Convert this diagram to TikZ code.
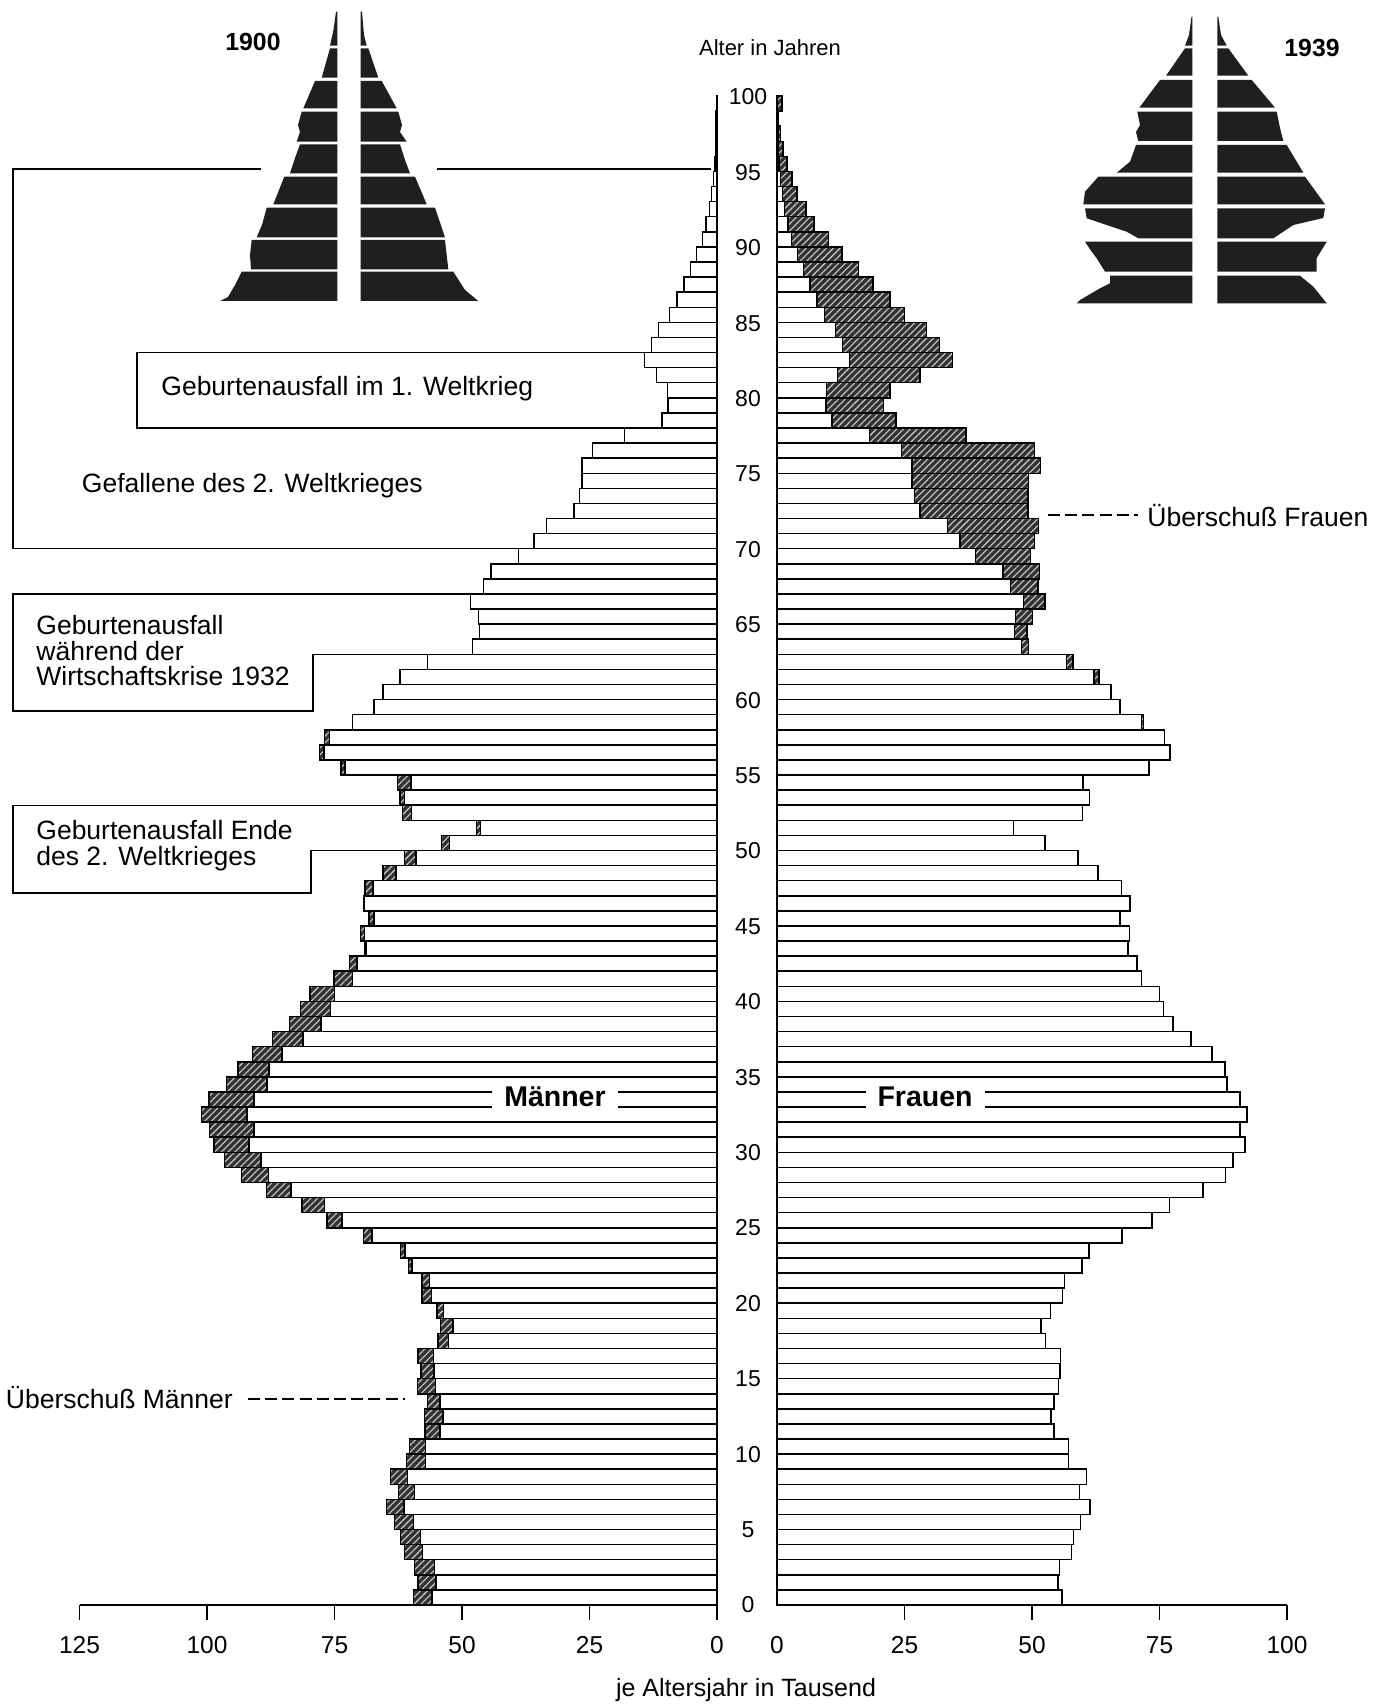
\documentclass[tikz,border=0pt]{standalone}
\usepackage{fontspec}
\setmainfont{Liberation Sans}
\usetikzlibrary{patterns.meta}
\def\popdata{0/59.5/55.9,1/58.6/55.1,2/59.3/55.4,3/61.3/57.7,4/62.1/58.1,5/63.2/59.5,6/64.8/61.4,7/62.5/59.3,8/64.0/60.7,9/60.9/57.2,10/60.3/57.2,11/57.3/54.3,12/57.4/53.7,13/56.8/54.3,14/58.7/55.2,15/58.0/55.5,16/58.6/55.6,17/54.7/52.6,18/54.2/51.8,19/54.9/53.6,20/57.8/56.0,21/57.8/56.4,22/60.5/59.8,23/62.1/61.2,24/69.3/67.6,25/76.5/73.5,26/81.4/77.0,27/88.3/83.5,28/93.2/87.9,29/96.6/89.4,30/98.6/91.8,31/99.5/90.8,32/101.1/92.2,33/99.6/90.8,34/96.2/88.2,35/93.9/87.8,36/91.1/85.3,37/87.2/81.2,38/83.8/77.6,39/81.7/75.8,40/79.8/75.0,41/75.1/71.5,42/72.1/70.6,43/69.0/68.8,44/69.9/69.1,45/68.2/67.3,46/69.2/69.2,47/69.0/67.5,48/65.5/62.9,49/61.3/59.0,50/54.0/52.5,51/47.2/46.4,52/61.7/59.9,53/62.2/61.3,54/62.6/60.0,55/73.7/72.9,56/77.9/77.1,57/77.0/76.0,58/71.5/71.9,59/67.3/67.3,60/65.5/65.5,61/62.2/63.1,62/56.8/58.0,63/47.9/49.3,64/46.6/49.0,65/46.8/50.1,66/48.3/52.5,67/45.8/51.2,68/44.3/51.5,69/38.9/49.7,70/35.9/50.5,71/33.4/51.3,72/28.0/49.2,73/27.0/49.2,74/26.5/49.3,75/26.5/51.7,76/24.4/50.5,77/18.1/37.1,78/10.8/23.3,79/9.6/20.9,80/9.7/22.2,81/11.9/28.0,82/14.2/34.4,83/12.8/31.9,84/11.5/29.3,85/9.3/25.0,86/7.8/22.2,87/6.5/18.8,88/5.2/16.0,89/4.0/12.75,90/2.8/10.1,91/2.2/7.3,92/1.5/5.7,93/1.1/3.9,94/0.7/2.9,95/0.4/1.96,96/0.3/1.2,97/0.2/0.65,98/0.15/0.33,99/0.1/1.0}
\def\xM{717}\def\xF{777}\def\sc{5.1}\def\bh{15.09}\def\yb{1605}
\begin{document}
\begin{tikzpicture}[x=0.5pt,y=-0.5pt,
  barline/.style={draw=black,line width=0.75pt},
  hatchfill/.style={fill=black!80,postaction={pattern={Lines[angle=45,distance=2.4pt,line width=0.55pt]},pattern color=white!80!black}},
  pyr/.style={fill=black!88},
  conn/.style={draw=black,line width=0.7pt},
  dashconn/.style={draw=black,line width=0.7pt,dash pattern=on 6pt off 2.6pt},
  agelbl/.style={font=\fontsize{11.5}{13}\selectfont,inner sep=0pt},
  ticklbl/.style={font=\fontsize{12.25}{14}\selectfont,inner sep=0pt},
  annot/.style={font=\fontsize{13.25}{12.75}\selectfont,align=left,anchor=west,inner sep=0pt},
  yearlbl/.style={font=\bfseries\fontsize{12.4}{14}\selectfont,inner sep=0pt},
  sexlbl/.style={font=\bfseries\fontsize{14.25}{16}\selectfont,fill=white,inner xsep=6pt,inner ysep=1.5pt},
]
\useasboundingbox (0,0) rectangle (1387,1706);
\fill[white] (0,0) rectangle (1387,1706);

% hatched excess parts
\foreach \i/\m/\f in \popdata {
  \pgfmathsetmacro\yt{\yb-\bh*(\i+1)}
  \pgfmathsetmacro\ybt{\yb-\bh*\i}
  \pgfmathsetmacro\w{min(\m,\f)}
  \pgfmathsetmacro\xmw{\xM-\sc*\w}
  \pgfmathsetmacro\xmm{\xM-\sc*\m}
  \pgfmathsetmacro\xfw{\xF+\sc*\w}
  \pgfmathsetmacro\xff{\xF+\sc*\f}
  \ifdim\m pt>\f pt \fill[hatchfill] (\xmm,\yt) rectangle (\xmw,\ybt); \fi
  \ifdim\f pt>\m pt \fill[hatchfill] (\xfw,\yt) rectangle (\xff,\ybt); \fi
}
% outlines
\foreach \i/\m/\f in \popdata {
  \pgfmathsetmacro\yt{\yb-\bh*(\i+1)}
  \pgfmathsetmacro\ybt{\yb-\bh*\i}
  \pgfmathsetmacro\w{min(\m,\f)}
  \pgfmathsetmacro\xmw{\xM-\sc*\w}
  \pgfmathsetmacro\xmm{\xM-\sc*\m}
  \pgfmathsetmacro\xfw{\xF+\sc*\w}
  \pgfmathsetmacro\xff{\xF+\sc*\f}
  \draw[barline] (\xmm,\yt) rectangle (\xM,\ybt);
  \draw[barline] (\xmw,\yt) -- (\xmw,\ybt);
  \draw[barline] (\xF,\yt) rectangle (\xff,\ybt);
  \draw[barline] (\xfw,\yt) -- (\xfw,\ybt);
}

% base lines and axes
\draw[barline] (\xM,95) -- (\xM,1620);
\draw[barline] (\xF,95) -- (\xF,1605);
\draw[barline] ({\xM-637.5},1605) -- (\xM,1605);
\draw[barline] (\xF,1605) -- ({\xF+510},1605);
\foreach \k/\lab in {0/0,1/25,2/50,3/75,4/100,5/125} {
  \draw[barline] ({\xM-127.5*\k},1605) -- ({\xM-127.5*\k},1620);
  \node[ticklbl] (mt\k) at ({\xM-127.5*\k},1645) {\lab};
}
\foreach \k/\lab in {0/0,1/25,2/50,3/75,4/100} {
  \ifnum\k>0 \draw[barline] ({\xF+127.5*\k},1605) -- ({\xF+127.5*\k},1620); \fi
  \node[ticklbl] (ft\k) at ({\xF+127.5*\k},1645) {\lab};
}
\node[ticklbl,font=\fontsize{12.5}{14}\selectfont] (xlab) at (746,1690) {je Altersjahr in Tausend};

% age labels
\foreach \a in {0,5,...,100} {
  \node[agelbl] (age\a) at (748,{\yb-15.08*\a}) {\a};
}
\node[agelbl,font=\fontsize{11}{13}\selectfont] (alter) at (770,48) {Alter in Jahren};

% sex labels
\node[sexlbl] (maenner) at (555,1097) {Männer};
\node[sexlbl] (frauen) at (925,1097) {Frauen};

% bracket: Gefallene des 2. Weltkrieges
\coordinate (gA) at (261,169);
\coordinate (gB) at (13,169);
\coordinate (gC) at (13,{\yb-\bh*70});
\coordinate (gD) at ({\xM-\sc*38.9},{\yb-\bh*70});
\coordinate (gE) at (437,169);
\coordinate (gF) at (711,169);
\draw[conn] (gA) -- (gB) -- (gC) -- (gD);
\draw[conn] (gE) -- (gF);
\node[annot] (gefallene) at (81.5,486) {Gefallene des 2. Weltkrieges};

% bracket: Geburtenausfall im 1. Weltkrieg
\coordinate (wA) at ({\xM-\sc*14.2},{\yb-\bh*83});
\coordinate (wB) at (137,{\yb-\bh*83});
\coordinate (wC) at (137,{\yb-\bh*78});
\coordinate (wD) at ({\xM-\sc*18.1},{\yb-\bh*78});
\draw[conn] (wA) -- (wB) -- (wC) -- (wD);
\node[annot] (weltkrieg1) at (161,389) {Geburtenausfall im 1. Weltkrieg};

% bracket: Wirtschaftskrise
\coordinate (kA) at ({\xM-\sc*48.3},{\yb-\bh*67});
\coordinate (kB) at (13,{\yb-\bh*67});
\coordinate (kC) at (13,711);
\coordinate (kD) at (313,711);
\coordinate (kE) at (313,{\yb-\bh*63});
\coordinate (kF) at ({\xM-\sc*56.8},{\yb-\bh*63});
\draw[conn] (kA) -- (kB) -- (kC) -- (kD) -- (kE) -- (kF);
\node[annot] (krise) at (36,651) {Geburtenausfall\\während der\\Wirtschaftskrise 1932};

% bracket: Ende des 2. Weltkrieges
\coordinate (eA) at ({\xM-\sc*61.7},{\yb-\bh*53});
\coordinate (eB) at (13,{\yb-\bh*53});
\coordinate (eC) at (13,893);
\coordinate (eD) at (311,893);
\coordinate (eE) at (311,{\yb-\bh*50});
\coordinate (eF) at ({\xM-\sc*61.3},{\yb-\bh*50});
\draw[conn] (eA) -- (eB) -- (eC) -- (eD) -- (eE) -- (eF);
\node[annot] (ende) at (36,845.5) {Geburtenausfall Ende\\des 2. Weltkrieges};

% surplus labels
\coordinate (dfA) at (1048,515);
\coordinate (dfB) at (1138,515);
\draw[dashconn] (dfA) -- (dfB);
\node[annot] (uef) at (1147,516) {Überschuß Frauen};
\coordinate (dmA) at (248,1399);
\coordinate (dmB) at (405,1399);
\draw[dashconn] (dmA) -- (dmB);
\node[annot] (uem) at (5.5,1398) {Überschuß Männer};

% small pyramid 1900
\node[yearlbl] (y1900) at (253,42) {1900};
\fill[pyr] (337.3,11.7) -- (336,11.7) -- (333.5,30) -- (330,45.7) -- (337.3,45.7) -- cycle;
\fill[pyr] (337.3,48.3) -- (330,48.3) -- (321.7,77.7) -- (337.3,77.7) -- cycle;
\fill[pyr] (337.3,81) -- (315,81) -- (303.3,108.3) -- (337.3,108.3) -- cycle;
\fill[pyr] (337.3,111.7) -- (301.7,111.7) -- (298,125) -- (300,132) -- (296.7,141.7) -- (337.3,141.7) -- cycle;
\fill[pyr] (337.3,144.3) -- (300,144.3) -- (295,158) -- (290,173.3) -- (337.3,173.3) -- cycle;
\fill[pyr] (337.3,176.7) -- (284.3,176.7) -- (273.3,204.3) -- (337.3,204.3) -- cycle;
\fill[pyr] (337.3,207.7) -- (266.7,207.7) -- (262,225) -- (256.7,237.3) -- (337.3,237.3) -- cycle;
\fill[pyr] (337.3,240) -- (251.7,240) -- (250,255) -- (251,269.3) -- (337.3,269.3) -- cycle;
\fill[pyr] (337.3,271.7) -- (241.7,271.7) -- (235,285) -- (228,297) -- (220,301) -- (337.3,301) -- cycle;
\fill[pyr] (360.7,11.7) -- (362,11.7) -- (364,35) -- (366.7,45.7) -- (360.7,45.7) -- cycle;
\fill[pyr] (360.7,48.3) -- (368.3,48.3) -- (378.3,77.7) -- (360.7,77.7) -- cycle;
\fill[pyr] (360.7,81) -- (381.7,81) -- (396.7,108.3) -- (360.7,108.3) -- cycle;
\fill[pyr] (360.7,111.7) -- (398.3,111.7) -- (402,125) -- (400,132) -- (406.7,141.7) -- (360.7,141.7) -- cycle;
\fill[pyr] (360.7,144.3) -- (400,144.3) -- (405,160) -- (410,173.3) -- (360.7,173.3) -- cycle;
\fill[pyr] (360.7,176.7) -- (415,176.7) -- (426.7,204.3) -- (360.7,204.3) -- cycle;
\fill[pyr] (360.7,207.7) -- (435,207.7) -- (445,237.3) -- (360.7,237.3) -- cycle;
\fill[pyr] (360.7,240) -- (445,240) -- (448.3,269.3) -- (360.7,269.3) -- cycle;
\fill[pyr] (360.7,271.7) -- (453.3,271.7) -- (465,290) -- (478.3,301) -- (360.7,301) -- cycle;

% small pyramid 1939
\node[yearlbl] (y1939) at (1312,48) {1939};
\fill[pyr] (1192.3,16.7) -- (1191.5,16.7) -- (1189,35) -- (1185,45.7) -- (1192.3,45.7) -- cycle;
\fill[pyr] (1192.3,48.3) -- (1185,48.3) -- (1166,75.7) -- (1192.3,75.7) -- cycle;
\fill[pyr] (1192.3,80) -- (1160,80) -- (1139.3,107.7) -- (1192.3,107.7) -- cycle;
\fill[pyr] (1192.3,111.7) -- (1137.3,111.7) -- (1140,125) -- (1136,132) -- (1138.3,141) -- (1192.3,141) -- cycle;
\fill[pyr] (1192.3,145) -- (1136,145) -- (1130,161.7) -- (1116.7,172.7) -- (1192.3,172.7) -- cycle;
\fill[pyr] (1192.3,176.7) -- (1098.3,176.7) -- (1085,191.7) -- (1083.3,204.3) -- (1192.3,204.3) -- cycle;
\fill[pyr] (1192.3,208.3) -- (1085,208.3) -- (1086.7,218.3) -- (1106.7,225) -- (1126.7,231.7) -- (1138.3,238.3) -- (1192.3,238.3) -- cycle;
\fill[pyr] (1192.3,241.7) -- (1085,241.7) -- (1091.7,251.7) -- (1096.7,258.3) -- (1105,271.7) -- (1192.3,271.7) -- cycle;
\fill[pyr] (1192.3,275.7) -- (1110,275.7) -- (1110,283.3) -- (1100,288.3) -- (1080,300) -- (1076.7,303.3) -- (1192.3,303.3) -- cycle;
\fill[pyr] (1217.3,16.7) -- (1218.3,16.7) -- (1221,35) -- (1226.7,45.7) -- (1217.3,45.7) -- cycle;
\fill[pyr] (1217.3,48.3) -- (1228.3,48.3) -- (1248.3,75.7) -- (1217.3,75.7) -- cycle;
\fill[pyr] (1217.3,80) -- (1251.7,80) -- (1275,107.7) -- (1217.3,107.7) -- cycle;
\fill[pyr] (1217.3,111.7) -- (1276.7,111.7) -- (1280,128) -- (1283.3,141) -- (1217.3,141) -- cycle;
\fill[pyr] (1217.3,145) -- (1286.7,145) -- (1303.3,172.7) -- (1217.3,172.7) -- cycle;
\fill[pyr] (1217.3,176.7) -- (1305,176.7) -- (1325,204.3) -- (1217.3,204.3) -- cycle;
\fill[pyr] (1217.3,208.3) -- (1325,208.3) -- (1323.3,218) -- (1293.3,225) -- (1273.3,238.3) -- (1217.3,238.3) -- cycle;
\fill[pyr] (1217.3,241.7) -- (1326.7,241.7) -- (1316.7,258) -- (1316.7,271.7) -- (1217.3,271.7) -- cycle;
\fill[pyr] (1217.3,275.7) -- (1300,275.7) -- (1313.3,286.7) -- (1326.7,303.3) -- (1217.3,303.3) -- cycle;
\end{tikzpicture}
\end{document}
